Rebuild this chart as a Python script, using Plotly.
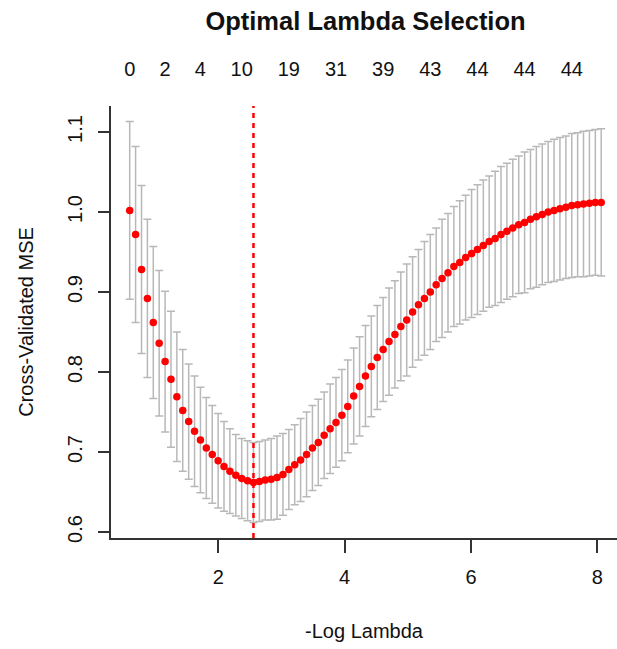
import plotly.graph_objects as go

# -log(lambda) grid of the cross-validation path
neg_log_lambda = [
    0.600, 0.693, 0.787, 0.880, 0.973, 1.066, 1.160, 1.253, 1.346, 1.439,
    1.533, 1.626, 1.719, 1.812, 1.906, 1.999, 2.092, 2.185, 2.279, 2.372,
    2.465, 2.558, 2.652, 2.745, 2.838, 2.931, 3.025, 3.118, 3.211, 3.304,
    3.398, 3.491, 3.584, 3.677, 3.771, 3.864, 3.957, 4.050, 4.144, 4.237,
    4.330, 4.423, 4.517, 4.610, 4.703, 4.796, 4.890, 4.983, 5.076, 5.169,
    5.263, 5.356, 5.449, 5.542, 5.636, 5.729, 5.822, 5.915, 6.009, 6.102,
    6.195, 6.288, 6.382, 6.475, 6.568, 6.661, 6.755, 6.848, 6.941, 7.034,
    7.128, 7.221, 7.314, 7.407, 7.501, 7.594, 7.687, 7.780, 7.874, 7.967,
    8.060,
]

# mean cross-validated MSE
cv_mse = [
    1.002, 0.972, 0.928, 0.892, 0.862, 0.836, 0.813, 0.791, 0.769, 0.752,
    0.738, 0.726, 0.715, 0.705, 0.697, 0.689, 0.682, 0.676, 0.671, 0.667,
    0.664, 0.662, 0.663, 0.665, 0.666, 0.668, 0.672, 0.678, 0.684, 0.690,
    0.697, 0.705, 0.712, 0.721, 0.729, 0.737, 0.746, 0.757, 0.770, 0.782,
    0.795, 0.807, 0.818, 0.828, 0.838, 0.847, 0.857, 0.865, 0.875, 0.884,
    0.892, 0.900, 0.909, 0.917, 0.924, 0.932, 0.937, 0.943, 0.948, 0.953,
    0.958, 0.963, 0.967, 0.972, 0.976, 0.980, 0.984, 0.987, 0.991, 0.994,
    0.997, 1.000, 1.002, 1.004, 1.006, 1.008, 1.009, 1.010, 1.011, 1.012,
    1.012,
]

# standard error of the cross-validated MSE
cv_se = [
    0.111, 0.110, 0.105, 0.099, 0.095, 0.091, 0.088, 0.085, 0.081, 0.076,
    0.072, 0.069, 0.066, 0.063, 0.061, 0.059, 0.056, 0.053, 0.051, 0.050,
    0.050, 0.050, 0.050, 0.050, 0.051, 0.052, 0.051, 0.050, 0.050, 0.052,
    0.053, 0.053, 0.054, 0.054, 0.056, 0.056, 0.057, 0.058, 0.060, 0.062,
    0.063, 0.063, 0.065, 0.065, 0.067, 0.067, 0.068, 0.070, 0.069, 0.069,
    0.071, 0.072, 0.071, 0.074, 0.074, 0.075, 0.077, 0.078, 0.080, 0.081,
    0.082, 0.082, 0.084, 0.085, 0.085, 0.086, 0.086, 0.088, 0.087, 0.088,
    0.088, 0.088, 0.089, 0.089, 0.089, 0.090, 0.090, 0.091, 0.091, 0.091,
    0.092,
]

# number of non-zero coefficients shown along the top
nz_index = [0, 6, 12, 19, 27, 35, 43, 51, 59, 67, 75]
nz_labels = ["0", "2", "4", "10", "19", "31", "39", "43", "44", "44", "44"]

best_index = 21  # lambda.min

x_ticks = [2, 4, 6, 8]
y_ticks = [0.6, 0.7, 0.8, 0.9, 1.0, 1.1]

FONT = "Liberation Sans, Arial, Helvetica, sans-serif"
AXIS_COLOR = "#333333"

fig = go.Figure()

fig.add_trace(go.Scatter(
    x=neg_log_lambda,
    y=cv_mse,
    mode="markers",
    marker=dict(color="red", size=7.5, line=dict(width=0)),
    error_y=dict(type="data", array=cv_se, symmetric=True,
                 color="#b8b8b8", thickness=1.5, width=4),
    showlegend=False,
    hoverinfo="skip",
))

# invisible trace so the top axis is drawn
fig.add_trace(go.Scatter(
    x=[neg_log_lambda[i] for i in nz_index],
    y=[cv_mse[i] for i in nz_index],
    xaxis="x2",
    mode="markers",
    marker=dict(opacity=0),
    showlegend=False,
    hoverinfo="skip",
))

fig.add_shape(
    type="line",
    xref="x", yref="paper",
    x0=neg_log_lambda[best_index], x1=neg_log_lambda[best_index],
    y0=0, y1=1,
    line=dict(color="red", width=2.5, dash="5px,5px"),
)

x_range = [0.304, 8.310]

fig.update_layout(
    width=617,
    height=649,
    margin=dict(l=111, r=0, t=106, b=111),
    paper_bgcolor="white",
    plot_bgcolor="white",
    font=dict(family=FONT, size=20, color="#111111"),
    title=dict(
        text="<b>Optimal Lambda Selection</b>",
        x=(111 + 620) / 2 / 617, xanchor="center",
        y=1 - 21 / 649, yanchor="middle",
        font=dict(size=25.5, family=FONT, color="#111111"),
    ),
    xaxis=dict(
        range=x_range,
        tickvals=x_ticks,
        ticktext=[str(v) for v in x_ticks],
        ticks="outside", ticklen=13, tickwidth=1.5, tickcolor=AXIS_COLOR,
        showline=True, linecolor=AXIS_COLOR, linewidth=2,
        showgrid=False, zeroline=False, mirror=False,
        ticklabelstandoff=7,
        title=dict(text="-Log Lambda", standoff=37, font=dict(size=20)),
    ),
    xaxis2=dict(
        range=x_range,
        overlaying="x",
        side="top",
        tickvals=[neg_log_lambda[i] for i in nz_index],
        ticktext=nz_labels,
        ticks="",
        showline=False, showgrid=False, zeroline=False,
        ticklabelstandoff=25,
        tickfont=dict(size=20),
    ),
    yaxis=dict(
        range=[0.5925, 1.1325],
        tickvals=y_ticks,
        ticktext=[f"{v:.1f}" for v in y_ticks],
        tickangle=-90,
        ticks="outside", ticklen=11, tickwidth=1.5, tickcolor=AXIS_COLOR,
        showline=True, linecolor=AXIS_COLOR, linewidth=2,
        showgrid=False, zeroline=False, mirror=False,
        ticklabelstandoff=8,
        title=dict(text="Cross-Validated MSE", standoff=25, font=dict(size=20)),
    ),
)

fig.write_html("out.html")
